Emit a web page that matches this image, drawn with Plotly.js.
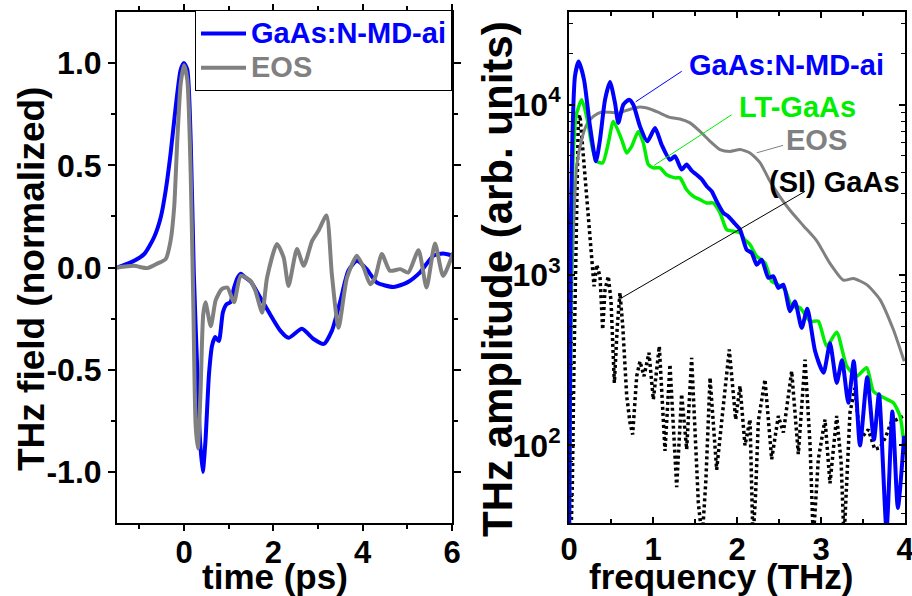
<!DOCTYPE html>
<html>
<head>
<meta charset="utf-8">
<script src="https://cdn.plot.ly/plotly-3.0.1.min.js"></script>
<style>html,body{margin:0;padding:0;background:#fff;}#chart{width:912px;height:596px;}</style>
</head>
<body>
<div id="chart"></div>
<script>
// ---- Left panel: THz time-domain field (normalized) ----
const timeBlue = [-1.5,-1.19,-0.89,-0.67,-0.52,-0.41,-0.30,-0.185,-0.074,0,0.074,0.15,0.22,0.30,0.36,0.42,0.48,0.56,0.63,0.70,0.78,0.87,0.95,1.04,1.12,1.20,1.27,1.38,1.50,1.71,1.93,2.16,2.34,2.64,2.90,3.13,3.31,3.50,3.68,3.87,4.09,4.32,4.69,4.99,5.28,5.58,5.80,6.03];
const fieldBlue = [0.0,0.025,0.066,0.148,0.246,0.377,0.558,0.787,0.967,1.0,0.967,0.62,-0.03,-0.52,-0.85,-1.0,-0.85,-0.52,-0.38,-0.34,-0.36,-0.22,-0.18,-0.17,-0.10,-0.05,-0.03,-0.05,-0.07,-0.148,-0.23,-0.31,-0.344,-0.30,-0.35,-0.374,-0.31,-0.164,-0.016,0.033,-0.008,-0.074,-0.095,-0.074,-0.025,0.057,0.069,0.057];

const timeEOS = [-1.5,-1.12,-0.82,-0.59,-0.41,-0.30,-0.22,-0.15,-0.074,0,0.074,0.15,0.21,0.26,0.31,0.37,0.43,0.48,0.60,0.71,0.84,0.97,1.12,1.27,1.49,1.60,1.75,1.86,2.08,2.23,2.34,2.53,2.68,2.87,3.01,3.19,3.31,3.46,3.65,3.87,4.02,4.17,4.28,4.43,4.61,4.84,5.02,5.25,5.43,5.62,5.80,6.03];
const fieldEOS = [0,0.008,-0.003,0.02,0.041,0.131,0.295,0.623,0.90,0.99,0.918,0.459,-0.197,-0.77,-0.885,-0.607,-0.23,-0.17,-0.287,-0.16,-0.107,-0.098,-0.17,-0.041,-0.066,-0.115,-0.221,-0.049,0.115,0.049,-0.09,0.09,0.008,0.131,0.18,0.254,-0.033,-0.295,-0.049,0.057,0,-0.082,-0.049,0.066,-0.016,-0.008,-0.025,0.085,-0.098,0.118,-0.041,0.074];

// ---- Right panel: THz amplitude spectra ----
const freqBlue = [0.0,0.02,0.04,0.071,0.115,0.179,0.25,0.321,0.369,0.429,0.488,0.548,0.587,0.647,0.716,0.766,0.845,0.933,1.024,1.103,1.202,1.262,1.341,1.40,1.46,1.52,1.58,1.639,1.70,1.758,1.837,1.897,1.976,2.036,2.115,2.175,2.235,2.294,2.373,2.432,2.492,2.552,2.631,2.69,2.77,2.837,2.93,3.03,3.107,3.187,3.25,3.325,3.39,3.464,3.55,3.63,3.69,3.78,3.85,3.915,3.99];
const ampBlue = [20,1600,6300,14700,17900,14000,7460,4660,6240,10700,13600,10200,7820,10000,10700,10000,7460,6100,7290,5820,4750,4980,4160,4450,4100,3880,3650,3320,3100,2710,2320,2210,2000,1850,1410,1350,1150,1230,964,984,841,879,614,701,490,634,357,267,398,233,316,178,312,100,251,108,200,32,158,43,114];

const freqLT = [0.0,0.03,0.05,0.083,0.151,0.21,0.282,0.329,0.401,0.468,0.528,0.627,0.687,0.746,0.825,0.885,0.944,1.004,1.083,1.163,1.262,1.321,1.40,1.48,1.56,1.639,1.718,1.798,1.877,1.956,2.036,2.095,2.155,2.234,2.333,2.413,2.492,2.571,2.651,2.75,2.869,2.968,3.068,3.187,3.306,3.425,3.544,3.623,3.742,3.861,3.94,3.99];
const ampLT = [20,1600,5000,8530,10700,8530,5450,4660,4550,5960,7980,6240,5210,5690,6970,5960,4450,4260,4260,3880,3720,3720,3170,2900,2770,2650,2650,2320,1850,1810,1770,1610,1510,1290,1180,920,879,822,656,643,536,536,382,462,292,255,286,208,191,178,149,100];

const freqEOS = [0.0,0.03,0.06,0.091,0.151,0.21,0.29,0.389,0.488,0.587,0.687,0.845,0.964,1.083,1.202,1.321,1.44,1.56,1.679,1.798,1.917,2.036,2.155,2.274,2.393,2.512,2.631,2.79,2.949,3.107,3.266,3.385,3.544,3.702,3.861,3.99];
const ampEOS = [20,800,2240,4350,6240,7640,8530,9060,9020,8930,9270,9680,9440,8930,8430,8240,7820,6970,6100,5450,5320,5450,5210,4570,3550,2880,2400,1950,1590,1170,933,955,879,718,479,312];

const freqSI = [0.0,0.04,0.06,0.09,0.111,0.131,0.17,0.21,0.25,0.27,0.298,0.33,0.369,0.401,0.429,0.468,0.50,0.54,0.575,0.607,0.64,0.687,0.726,0.758,0.806,0.845,0.893,0.952,1.004,1.075,1.143,1.202,1.282,1.341,1.401,1.46,1.54,1.585,1.63,1.679,1.758,1.83,1.908,1.984,2.036,2.095,2.155,2.19,2.22,2.254,2.333,2.413,2.492,2.552,2.651,2.73,2.81,2.87,2.908,2.94,2.968,3.048,3.107,3.187,3.24,3.274,3.30,3.345,3.405,3.464,3.563,3.64,3.70,3.77,3.833,3.98];
const ampSI = [10,60,320,3160,8170,8710,5010,3030,1850,1230,859,1150,984,479,822,984,708,233,501,787,501,195,136,116,255,312,255,350,186,382,93,299,57,200,95,327,46,28,63,250,72,158,366,142,223,100,142,28,50,139,244,83,149,119,273,89,319,100,28,50,83,142,60,149,79,28,50,156,218,108,124,95,97,112,136,149];

// Right-panel label texts and their pointer lines (data coordinates)
const labelText = ['GaAs:N-MD-ai','LT-GaAs','EOS','(SI) GaAs'];
const labelColor = ['#0000ff','#00ee00','#808080','#000000'];
const labelX = [2.595, 2.72, 2.952, 3.155];
const labelY = [17200, 9700, 6240, 3530];
const ptrX0 = [0.794, 1.012, 2.235, 0.627];
const ptrY0 = [10400, 4400, 5220, 735];
const ptrX1 = [1.342, 1.937, 2.548, 2.81];
const ptrY1 = [15700, 8730, 5770, 3100];

// Axis titles
const axisTitles = ['time (ps)', 'THz field (normalized)', 'frequency (THz)', 'THz amplitude (arb. units)'];

const FONT = 'Liberation Sans, Arial, Helvetica, sans-serif';
const W = 912, H = 596, MT = 12, MB = 73;
const px2x = p => p / W;
const px2y = p => (H - MB - p) / (H - MB - MT);

const traces = [
  {x: timeBlue, y: fieldBlue, xaxis:'x', yaxis:'y', mode:'lines',
   name:'<span style="color:#0000ff;font-size:29px">GaAs:N-MD-ai</span>',
   line:{color:'#0000ff', width:4, shape:'spline', smoothing:0.6}},
  {x: timeEOS, y: fieldEOS, xaxis:'x', yaxis:'y', mode:'lines',
   name:'<span style="color:#808080;font-size:29px">EOS</span>',
   line:{color:'#808080', width:4, shape:'spline', smoothing:0.6}},
  {x: freqSI, y: ampSI, xaxis:'x2', yaxis:'y2', mode:'lines', showlegend:false,
   line:{color:'#000000', width:3.5, dash:'3px,3px'}},
  {x: freqEOS, y: ampEOS, xaxis:'x2', yaxis:'y2', mode:'lines', showlegend:false,
   line:{color:'#808080', width:3, shape:'spline', smoothing:0.6}},
  {x: freqLT, y: ampLT, xaxis:'x2', yaxis:'y2', mode:'lines', showlegend:false,
   line:{color:'#00ee00', width:3.5, shape:'spline', smoothing:0.6}},
  {x: freqBlue, y: ampBlue, xaxis:'x2', yaxis:'y2', mode:'lines', showlegend:false,
   line:{color:'#0000ff', width:4, shape:'spline', smoothing:0.6}}
];
// pointer lines from labels to curves
labelText.forEach((t,i)=>{
  traces.push({x:[ptrX0[i], ptrX1[i]], y:[ptrY0[i], ptrY1[i]], xaxis:'x2', yaxis:'y2',
    mode:'lines', showlegend:false, hoverinfo:'skip', line:{color:labelColor[i], width:1}});
});

const xTickFont = {family:FONT, size:31, color:'#000', weight:'bold'};
const yTickFont = {family:FONT, size:32, color:'#000', weight:'bold'};

const axBase = {showline:true, linecolor:'#000', linewidth:2, mirror:'ticks',
  showgrid:false, zeroline:false, tickcolor:'#000', tickwidth:2, ticklabeloverflow:'allow'};

const annotations = labelText.map((t,i)=>({
  xref:'x2', yref:'y2', x:labelX[i], y:Math.log10(labelY[i]), text:t, showarrow:false,
  font:{family:FONT, size:29, color:labelColor[i], weight:'bold'}, xanchor:'center', yanchor:'middle'
}));
// axis titles placed as annotations so their position matches the reference
const titlePos = [[275, 576, 0, 35], [31, 279, -90, 37], [721, 576, 0, 35], [497, 279, -90, 42]];
axisTitles.forEach((t,i)=>{
  const p = titlePos[i];
  annotations.push({xref:'paper', yref:'paper', x:px2x(p[0]), y:px2y(p[1]), text:t, showarrow:false,
    textangle:p[2], xanchor:'center', yanchor:'middle',
    font:{family:FONT, size:p[3], color:'#000', weight:'bold'}});
});

const logMinor = [];
[10,100,1000,10000].forEach(d=>{for(let k=2;k<=9;k++){logMinor.push(k*d);}});

const layout = {
  width:W, height:H,
  margin:{l:0, r:0, t:MT, b:MB},
  paper_bgcolor:'#fff', plot_bgcolor:'#fff',
  showlegend:true,
  legend:{x:452/W, xanchor:'right', y:1.003, yanchor:'top', bgcolor:'#fff',
    bordercolor:'#000', borderwidth:1, font:{family:FONT, size:24, weight:'bold'},
    tracegroupgap:0, itemwidth:45},
  xaxis: Object.assign({}, axBase, {domain:[117/W, 452/W], range:[-1.5,6], anchor:'y',
    tickvals:[0,2,4,6], ticks:'outside', ticklen:6, tickfont:xTickFont, ticklabelstandoff:-5,
    minor:{tickvals:[-1,1,3,5], ticks:'outside', ticklen:4, tickwidth:2, tickcolor:'#000'}}),
  yaxis: Object.assign({}, axBase, {domain:[0,1], range:[-1.25,1.25], anchor:'x',
    tickvals:[-1,-0.5,0,0.5,1], ticktext:['-1.0','-0.5','0.0','0.5','1.0'], ticks:'outside', ticklen:7,
    tickfont:yTickFont,
    minor:{tickvals:[-0.75,-0.25,0.25,0.75], ticks:'outside', ticklen:4, tickwidth:2, tickcolor:'#000'}}),
  xaxis2: Object.assign({}, axBase, {domain:[569/W, 905/W], range:[0,4], anchor:'y2',
    tickvals:[0,1,2,3,4], ticks:'inside', ticklen:6, tickfont:xTickFont, ticklabelstandoff:-2,
    minor:{tickvals:[0.5,1.5,2.5,3.5], ticks:'inside', ticklen:4, tickwidth:1.5, tickcolor:'#000'}}),
  yaxis2: Object.assign({}, axBase, {domain:[0,1], type:'log', range:[1.545,4.544], anchor:'x2',
    tickvals:[100,1000,10000], ticktext:['10<sup>2</sup>','10<sup>3</sup>','10<sup>4</sup>'],
    ticks:'inside', ticklen:6, tickfont:yTickFont,
    minor:{tickvals:logMinor, ticks:'inside', ticklen:4, tickwidth:1, tickcolor:'#000'}}),
  annotations: annotations
};

Plotly.newPlot('chart', traces, layout, {displayModeBar:false, staticPlot:true});
</script>
</body>
</html>
